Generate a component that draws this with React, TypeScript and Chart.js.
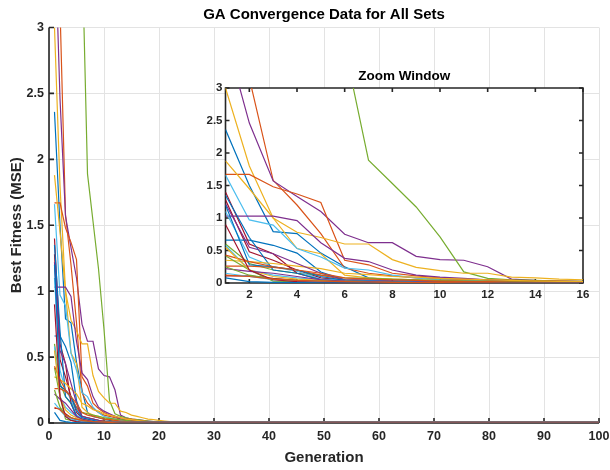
import { useEffect, useRef } from 'react';
import Chart from 'chart.js/auto';

// axis ticks
const generationTicks = [0, 10, 20, 30, 40, 50, 60, 70, 80, 90, 100];
const zoomGenerationTicks = [2, 4, 6, 8, 10, 12, 14, 16];
const fitnessTicks = [0, 0.5, 1, 1.5, 2, 2.5, 3];
const lastGeneration = 100;

// best fitness (MSE) per generation, starting at generation 1, one list per set
const set01 = [2.36, 1.5, 0.79, 0.76, 0.46, 0.25, 0.08, 0.05, 0.04, 0.03, 0.02, 0.015, 0.01, 0.008, 0.006, 0.005, 0.004];
const set02 = [5.2, 3.15, 1.58, 1.2, 0.76, 0.23, 0.15, 0.11, 0.08, 0.06, 0.05, 0.04, 0.03, 0.025, 0.02, 0.018, 0.012, 0.008, 0.005, 0.003];
const set03 = [3.0, 1.8, 1.0, 0.53, 0.45, 0.12, 0.08, 0.06, 0.05, 0.04, 0.03, 0.02, 0.015, 0.01, 0.008, 0.006, 0.004];
const set04 = [3.8, 2.46, 1.57, 1.33, 1.1, 0.75, 0.62, 0.62, 0.41, 0.36, 0.35, 0.25, 0.06, 0.04, 0.03, 0.025, 0.02, 0.015, 0.01, 0.006, 0.004];
const set05 = [9.5, 7.8, 6.2, 5.0, 4.2, 3.63, 1.89, 1.53, 1.17, 0.71, 0.17, 0.07, 0.05, 0.04, 0.03, 0.025, 0.02, 0.015, 0.01, 0.006, 0.004];
const set06 = [1.66, 0.97, 0.89, 0.53, 0.4, 0.23, 0.2, 0.12, 0.08, 0.05, 0.04, 0.03, 0.02, 0.015, 0.01, 0.008, 0.005];
const set07 = [1.28, 0.48, 0.35, 0.2, 0.08, 0.04, 0.03, 0.02, 0.015, 0.01, 0.008, 0.005];
const set08 = [0.66, 0.66, 0.58, 0.46, 0.17, 0.05, 0.04, 0.03, 0.02, 0.015, 0.01, 0.005];
const set09 = [1.67, 1.67, 1.48, 1.37, 1.24, 0.35, 0.28, 0.15, 0.11, 0.08, 0.06, 0.05, 0.04, 0.03, 0.03, 0.02, 0.015, 0.01, 0.006, 0.004];
const set10 = [1.88, 1.45, 1.0, 0.78, 0.7, 0.6, 0.6, 0.36, 0.24, 0.19, 0.15, 0.15, 0.09, 0.08, 0.06, 0.05, 0.04, 0.03, 0.025, 0.02, 0.015, 0.01, 0.006, 0.003];
const set11 = [1.03, 1.03, 1.03, 0.96, 0.62, 0.38, 0.33, 0.2, 0.12, 0.09, 0.07, 0.05, 0.03, 0.02, 0.015, 0.01, 0.006, 0.004];
const set12 = [0.6, 0.3, 0.2, 0.15, 0.12, 0.08, 0.07, 0.06, 0.05, 0.04, 0.035, 0.03, 0.025, 0.02, 0.015, 0.012, 0.01, 0.006, 0.004];
const set13 = [1.1, 0.4, 0.25, 0.18, 0.06, 0.04, 0.03, 0.02, 0.01, 0.006];
const set14 = [1.4, 0.6, 0.45, 0.15, 0.05, 0.03, 0.02, 0.01, 0.005];
const set15 = [1.35, 0.7, 0.2, 0.15, 0.05, 0.03, 0.02, 0.01, 0.006];
const set16 = [0.26, 0.26, 0.24, 0.2, 0.12, 0.05, 0.04, 0.03, 0.02, 0.015, 0.01, 0.006];
const set17 = [0.35, 0.33, 0.3, 0.26, 0.22, 0.15, 0.13, 0.1, 0.09, 0.07, 0.06, 0.05, 0.04, 0.03, 0.025, 0.02, 0.015, 0.01, 0.006, 0.003];
const set18 = [1.22, 0.55, 0.45, 0.3, 0.15, 0.05, 0.04, 0.03, 0.02, 0.01, 0.006];
const set19 = [0.42, 0.2, 0.03, 0.02, 0.015, 0.01, 0.008, 0.005];
const set20 = [0.58, 0.2, 0.12, 0.08, 0.05, 0.04, 0.03, 0.02, 0.01, 0.005];
const set21 = [0.11, 0.11, 0.07, 0.04, 0.02, 0.015, 0.01, 0.005];
const set22 = [1.2, 0.28, 0.25, 0.2, 0.1, 0.04, 0.03, 0.02, 0.01, 0.005];
const set23 = [0.43, 0.33, 0.25, 0.2, 0.15, 0.08, 0.06, 0.05, 0.04, 0.03, 0.025, 0.02, 0.015, 0.01, 0.006, 0.003];
const set24 = [0.55, 0.2, 0.1, 0.06, 0.04, 0.03, 0.02, 0.01, 0.005];
const set25 = [0.22, 0.18, 0.15, 0.1, 0.05, 0.03, 0.02, 0.01, 0.005];
const set26 = [0.25, 0.12, 0.06, 0.04, 0.03, 0.02, 0.01, 0.005];
const set27 = [0.15, 0.1, 0.05, 0.03, 0.02, 0.01, 0.005];
const set28 = [0.9, 0.2, 0.05, 0.02, 0.01, 0.005];
const set29 = [0.08, 0.02, 0.01, 0.005, 0.002];
const set30 = [0.12, 0.1, 0.06, 0.04, 0.03, 0.02, 0.015, 0.01, 0.008, 0.006, 0.004, 0.002, 0];

const allSets = [
  set01, set02, set03, set04, set05, set06, set07, set08, set09, set10,
  set11, set12, set13, set14, set15, set16, set17, set18, set19, set20,
  set21, set22, set23, set24, set25, set26, set27, set28, set29, set30,
];

// MATLAB default colour order
const lineColors = ['#0072BD', '#D95319', '#EDB120', '#7E2F8E', '#77AC30', '#4DBEEE', '#A2142F'];
const FONT = 'Liberation Sans, Arial, Helvetica, sans-serif';
const TEXT = '#262626';

function buildDatasets() {
  // chart.js draws dataset 0 on top, so reverse to keep the plotting order
  return allSets
    .map((values, i) => ({
      label: `Set ${i + 1}`,
      data: [
        ...values.map((y, g) => ({ x: g + 1, y })),
        { x: lastGeneration, y: values[values.length - 1] },
      ],
      borderColor: lineColors[i % lineColors.length],
      borderWidth: 1.2,
      pointRadius: 0,
      tension: 0,
      fill: false,
      clip: 0,
    }))
    .reverse();
}

// MATLAB style axes: ticks pointing inward, optional full box
const axesFrame = (box: boolean, tickLength: number) => ({
  id: 'axesFrame',
  beforeDatasetsDraw(chart: any) {
    const { ctx, chartArea: a, scales } = chart;
    ctx.save();
    ctx.strokeStyle = TEXT;
    ctx.lineWidth = 1.6;
    ctx.beginPath();
    scales.x.ticks.forEach((t: any) => {
      const px = scales.x.getPixelForValue(t.value);
      ctx.moveTo(px, a.bottom);
      ctx.lineTo(px, a.bottom - tickLength);
      if (box) {
        ctx.moveTo(px, a.top);
        ctx.lineTo(px, a.top + tickLength);
      }
    });
    scales.y.ticks.forEach((t: any) => {
      const py = scales.y.getPixelForValue(t.value);
      ctx.moveTo(a.left, py);
      ctx.lineTo(a.left + tickLength, py);
      if (box) {
        ctx.moveTo(a.right, py);
        ctx.lineTo(a.right - tickLength, py);
      }
    });
    ctx.stroke();
    ctx.beginPath();
    ctx.moveTo(a.left, a.top);
    ctx.lineTo(a.left, a.bottom);
    ctx.lineTo(a.right, a.bottom);
    if (box) {
      ctx.lineTo(a.right, a.top);
      ctx.closePath();
    }
    ctx.stroke();
    ctx.restore();
  },
});

const plotBackground = {
  id: 'plotBackground',
  beforeDraw(chart: any) {
    const { ctx, chartArea: a } = chart;
    ctx.save();
    ctx.fillStyle = '#ffffff';
    ctx.fillRect(a.left, a.top, a.right - a.left, a.bottom - a.top);
    ctx.restore();
  },
};

const plainLabel = (v: any) => String(v);

const App = () => {
  const mainRef = useRef<HTMLCanvasElement | null>(null);
  const zoomRef = useRef<HTMLCanvasElement | null>(null);

  useEffect(() => {
    if (!mainRef.current || !zoomRef.current) return;

    const tickFont = { family: FONT, size: 12.5, weight: 'bold' as const };
    const labelFont = { family: FONT, size: 15, weight: 'bold' as const };

    const mainChart = new Chart(mainRef.current, {
      type: 'line',
      data: { datasets: buildDatasets() },
      options: {
        animation: false,
        responsive: true,
        maintainAspectRatio: false,
        events: [],
        layout: { padding: { left: 0, right: 11, top: 0, bottom: 0 } },
        plugins: {
          legend: { display: false },
          tooltip: { enabled: false },
          title: {
            display: true,
            fullSize: false,
            text: 'GA Convergence Data for All Sets',
            color: '#000',
            font: labelFont,
            padding: { top: 5.5, bottom: 4 },
          },
        },
        scales: {
          x: {
            type: 'linear',
            min: 0,
            max: 100,
            afterBuildTicks: (s: any) => {
              s.ticks = generationTicks.map((value) => ({ value }));
            },
            afterFit: (s: any) => {
              s.height = 47;
              s.paddingLeft = 0;
              s.paddingRight = 0;
            },
            grid: { color: '#e3e3e3', drawTicks: false },
            border: { display: false },
            ticks: { padding: 6, color: TEXT, font: tickFont, maxRotation: 0, autoSkip: false, callback: plainLabel },
            title: { display: true, text: 'Generation', color: TEXT, font: labelFont, padding: { top: 0, bottom: 3 } },
          },
          y: {
            min: 0,
            max: 3,
            afterBuildTicks: (s: any) => {
              s.ticks = fitnessTicks.map((value) => ({ value }));
            },
            afterFit: (s: any) => {
              s.width = 49;
            },
            grid: { color: '#e3e3e3', drawTicks: false },
            border: { display: false },
            ticks: { padding: 5, color: TEXT, font: tickFont, callback: plainLabel },
            title: { display: true, text: 'Best Fitness (MSE)', color: TEXT, font: labelFont, padding: { top: 8, bottom: 0 } },
          },
        },
      },
      plugins: [axesFrame(false, 5)],
    });

    const zoomFont = { family: FONT, size: 11.5, weight: 'bold' as const };

    const zoomChart = new Chart(zoomRef.current, {
      type: 'line',
      data: { datasets: buildDatasets() },
      options: {
        animation: false,
        responsive: true,
        maintainAspectRatio: false,
        events: [],
        layout: { padding: { left: 0, right: 12, top: 0, bottom: 0 } },
        plugins: {
          legend: { display: false },
          tooltip: { enabled: false },
          title: {
            display: true,
            fullSize: false,
            text: 'Zoom Window',
            color: '#000',
            font: { family: FONT, size: 13.5, weight: 'bold' },
            padding: { top: 7.9, bottom: 3.9 },
          },
        },
        scales: {
          x: {
            type: 'linear',
            min: 1,
            max: 16,
            afterBuildTicks: (s: any) => {
              s.ticks = zoomGenerationTicks.map((value) => ({ value }));
            },
            afterFit: (s: any) => {
              s.height = 27;
              s.paddingLeft = 0;
              s.paddingRight = 0;
            },
            grid: { display: false, drawTicks: false },
            border: { display: false },
            ticks: { padding: 5, color: TEXT, font: zoomFont, maxRotation: 0, autoSkip: false, callback: plainLabel },
          },
          y: {
            min: 0,
            max: 3,
            afterBuildTicks: (s: any) => {
              s.ticks = fitnessTicks.map((value) => ({ value }));
            },
            afterFit: (s: any) => {
              s.width = 35.5;
            },
            grid: { display: false, drawTicks: false },
            border: { display: false },
            ticks: { padding: 3, color: TEXT, font: zoomFont, callback: plainLabel },
          },
        },
      },
      plugins: [plotBackground, axesFrame(true, 4)],
    });

    return () => {
      mainChart.destroy();
      zoomChart.destroy();
    };
  }, []);

  return (
    <div style={{ position: 'absolute', left: 0, top: 0, width: 610, height: 470, background: '#fff' }}>
      <div style={{ position: 'absolute', left: 0, top: 0, width: 610, height: 470 }}>
        <canvas ref={mainRef}></canvas>
      </div>
      <div style={{ position: 'absolute', left: 190, top: 60, width: 405, height: 250 }}>
        <canvas ref={zoomRef}></canvas>
      </div>
    </div>
  );
};

export default App;
